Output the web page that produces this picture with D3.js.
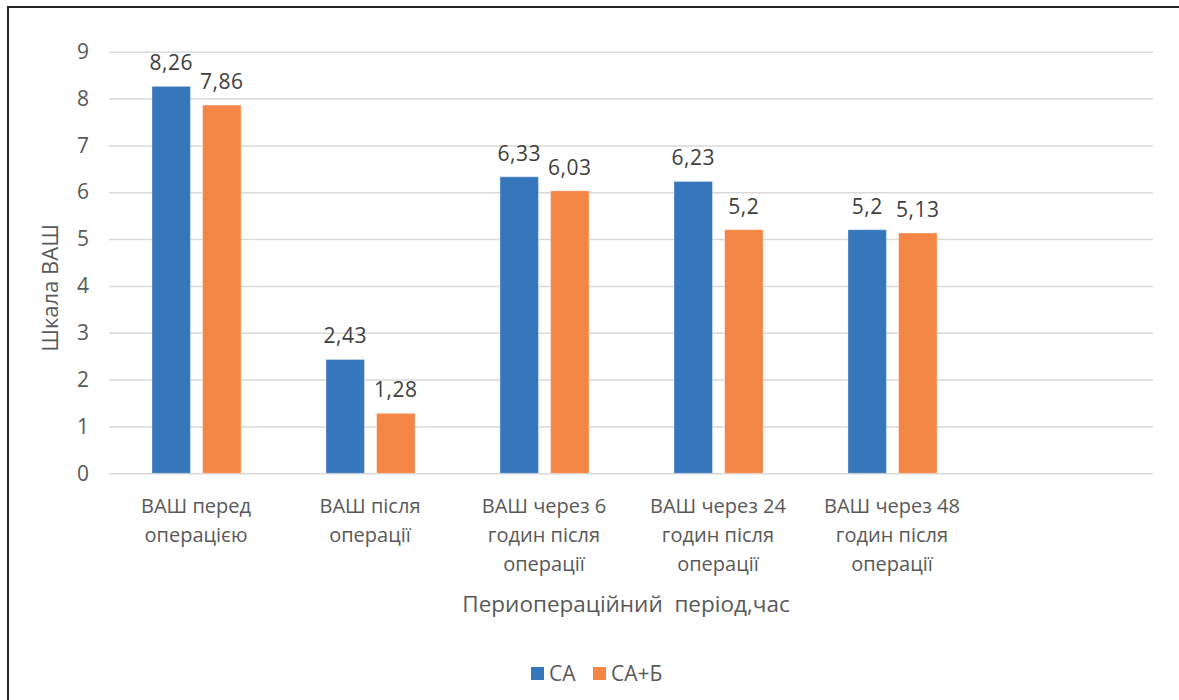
<!DOCTYPE html>
<html><head><meta charset="utf-8">
<script src="https://cdn.jsdelivr.net/npm/d3@7"></script>
<style>html,body{margin:0;padding:0;background:#fff;} svg{display:block;}</style>
</head><body>
<svg id="chart" width="1179" height="700"></svg>
<script>
const categories = ["ВАШ перед\nоперацією", "ВАШ після\nоперації", "ВАШ через 6\nгодин після\nоперації", "ВАШ через 24\nгодин після\nоперації", "ВАШ через 48\nгодин після\nоперації", ""];
const seriesNames = ["СА", "СА+Б"];
const valuesCA = [8.26, 2.43, 6.33, 6.23, 5.2];
const valuesCAB = [7.86, 1.28, 6.03, 5.2, 5.13];
const yTicks = [0, 1, 2, 3, 4, 5, 6, 7, 8, 9];
const colors = ["#3676BB", "#F38644"];
const yTitle = "Шкала ВАШ";
const xTitle = "Периопераційний\u00a0\u00a0період,час";

const svg = d3.select("#chart");
const font = "'Open Sans', sans-serif";
const textColor = "#595959";

// outer border
svg.append("rect").attr("x", 8).attr("y", 7).attr("width", 1200).attr("height", 720)
  .attr("fill", "none").attr("stroke", "#262626").attr("stroke-width", 2);

const plotLeft = 109, plotRight = 1153, plotTop = 51.7, plotBottom = 473.3;
const x0 = d3.scaleBand().domain(categories.map((d, i) => i)).range([plotLeft, plotRight]).padding(0);
const x1 = d3.scaleBand().domain([0, 1])
  .range([x0.bandwidth() * 0.247, x0.bandwidth() * 0.759]).paddingInner(0.24).paddingOuter(0);
const y = d3.scaleLinear().domain([0, 9]).range([plotBottom, plotTop]);

// gridlines + y axis
const yAxis = d3.axisLeft(y).tickValues(yTicks).tickSize(-(plotRight - plotLeft)).tickPadding(20).tickFormat(d3.format("d"));
const gy = svg.append("g").attr("transform", `translate(${plotLeft},0)`).call(yAxis);
gy.select(".domain").remove();
gy.selectAll(".tick line").attr("stroke", "#d9d9d9").attr("stroke-width", 1.5);
gy.selectAll(".tick text").attr("fill", textColor).attr("font-family", font).attr("font-size", 21);

// bars
const series = [valuesCA, valuesCAB];
series.forEach((vals, s) => {
  svg.append("g").selectAll("rect").data(vals).join("rect")
    .attr("x", (d, i) => x0(i) + x1(s))
    .attr("y", d => y(d))
    .attr("width", x1.bandwidth())
    .attr("height", d => y(0) - y(d))
    .attr("fill", colors[s])
    .attr("stroke", "#ffffff").attr("stroke-opacity", 0.35).attr("stroke-width", 1);
  svg.append("g").selectAll("text").data(vals).join("text")
    .attr("x", (d, i) => x0(i) + x1(s) + x1.bandwidth() / 2)
    .attr("y", d => y(d) - 16)
    .attr("text-anchor", "middle")
    .attr("font-family", font).attr("font-size", 21).attr("fill", "#404040")
    .attr("letter-spacing", 0.5)
    .text(d => String(d).replace(".", ","));
});

// category labels
const gx = svg.append("g");
categories.forEach((c, i) => {
  if (!c) return;
  const t = gx.append("text").attr("text-anchor", "middle")
    .attr("font-family", font).attr("font-size", 20).attr("fill", textColor);
  c.split("\n").forEach((line, k) => {
    t.append("tspan").attr("x", x0(i) + x0.bandwidth() / 2).attr("y", 513 + k * 29).text(line);
  });
});

// axis titles
svg.append("text").attr("x", 626).attr("y", 612).attr("text-anchor", "middle")
  .attr("font-family", font).attr("font-size", 22.5).attr("fill", textColor).text(xTitle);
svg.append("text").attr("transform", "translate(58,288) rotate(-90)").attr("text-anchor", "middle")
  .attr("font-family", font).attr("font-size", 22).attr("fill", textColor).text(yTitle);

// legend
const legendItems = [{x: 531, name: seriesNames[0], c: colors[0]}, {x: 593, name: seriesNames[1], c: colors[1]}];
legendItems.forEach(it => {
  svg.append("rect").attr("x", it.x).attr("y", 667).attr("width", 13).attr("height", 13).attr("fill", it.c);
  svg.append("text").attr("x", it.x + 18).attr("y", 681).attr("font-family", font).attr("font-size", 21)
    .attr("fill", textColor).text(it.name);
});
</script>
</body></html>
